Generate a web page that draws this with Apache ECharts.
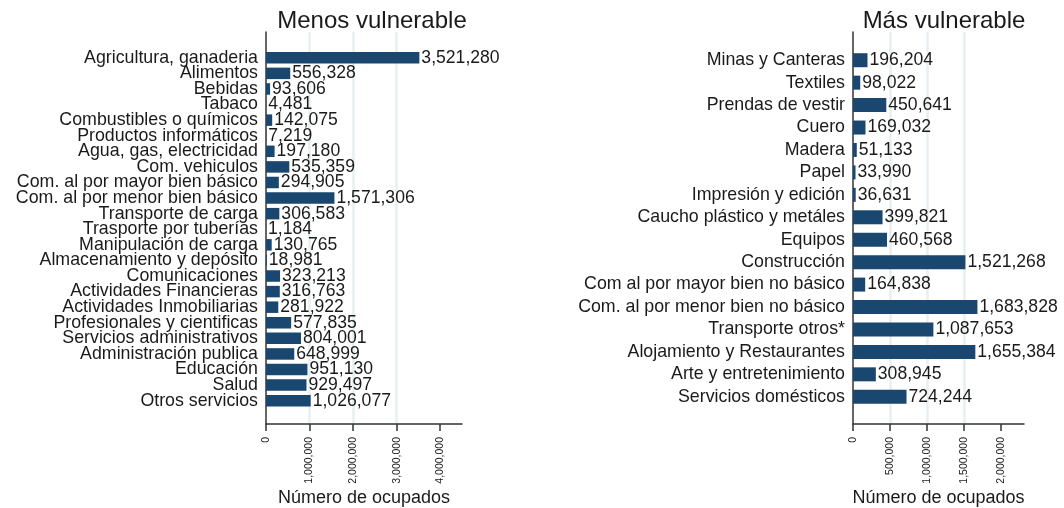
<!DOCTYPE html>
<html>
<head>
<meta charset="utf-8">
<script src="https://cdn.jsdelivr.net/npm/echarts@6/dist/echarts.min.js"></script>
<style>
html,body{margin:0;padding:0;background:#fff;}
#chart{width:1064px;height:508px;}
</style>
</head>
<body>
<div id="chart"></div>
<script>
// ---- Data ----
const leftTitle = 'Menos vulnerable';
const rightTitle = 'Más vulnerable';
const axisName = 'Número de ocupados';

const leftCategories = [
  'Agricultura, ganaderia', 'Alimentos', 'Bebidas', 'Tabaco',
  'Combustibles o químicos', 'Productos informáticos', 'Agua, gas, electricidad',
  'Com. vehiculos', 'Com. al por mayor bien básico', 'Com. al por menor bien básico',
  'Transporte de carga', 'Trasporte por tuberías', 'Manipulación de carga',
  'Almacenamiento y depósito', 'Comunicaciones', 'Actividades Financieras',
  'Actividades Inmobiliarias', 'Profesionales y cientificas', 'Servicios administrativos',
  'Administración publica', 'Educación', 'Salud', 'Otros servicios'
];
const leftValues = [
  3521280, 556328, 93606, 4481, 142075, 7219, 197180, 535359, 294905, 1571306,
  306583, 1184, 130765, 18981, 323213, 316763, 281922, 577835, 804001,
  648999, 951130, 929497, 1026077
];

const rightCategories = [
  'Minas y Canteras', 'Textiles', 'Prendas de vestir', 'Cuero', 'Madera', 'Papel',
  'Impresión y edición', 'Caucho plástico y metáles', 'Equipos', 'Construcción',
  'Com al por mayor bien no básico', 'Com. al por menor bien no básico',
  'Transporte otros*', 'Alojamiento y Restaurantes', 'Arte y entretenimiento',
  'Servicios domésticos'
];
const rightValues = [
  196204, 98022, 450641, 169032, 51133, 33990, 36631, 399821, 460568, 1521268,
  164838, 1683828, 1087653, 1655384, 308945, 724244
];

const leftTicks = [0, 1000000, 2000000, 3000000, 4000000];
const rightTicks = [0, 500000, 1000000, 1500000, 2000000];

// ---- Styling ----
const FONT = '"Liberation Sans", Arial, sans-serif';
const BAR = '#1a476f';
const TXT = '#1a1a1a';
const GRIDC = '#e6eff2';
const AXC = '#333';

function fmt(v) {
  return String(Math.round(v)).replace(/\B(?=(\d{3})+(?!\d))/g, ',');
}

function outerX(gridIndex, max, interval, ticks) {
  return {
    type: 'value', gridIndex, min: 0, max, interval,
    axisLine: { show: true, lineStyle: { color: AXC, width: 1.5 } },
    axisTick: { show: true, length: 7, inside: false, lineStyle: { color: AXC, width: 1.5 }, customValues: ticks },
    axisLabel: {
      show: true, rotate: 90, margin: 13, fontSize: 10.5, color: TXT, fontFamily: FONT,
      customValues: ticks, formatter: fmt
    },
    splitLine: { show: true, showMinLine: false, showMaxLine: false, lineStyle: { color: GRIDC, width: 2.5 } },
    name: axisName, nameLocation: 'middle', nameGap: 65, nameMoveOverlap: false,
    nameTextStyle: { fontSize: 18, color: TXT, fontFamily: FONT }
  };
}
function innerX(gridIndex, max) {
  return { type: 'value', gridIndex, min: 0, max, show: false, splitLine: { show: false } };
}
function outerY(gridIndex) {
  return {
    type: 'value', gridIndex, min: 0, max: 1,
    axisLine: { show: true, onZero: false, lineStyle: { color: AXC, width: 1.5 } },
    axisTick: { show: false }, axisLabel: { show: false }, splitLine: { show: false }
  };
}
function innerY(gridIndex, cats) {
  return {
    type: 'category', gridIndex, data: cats, inverse: true,
    axisLine: { show: false }, axisTick: { show: false },
    axisLabel: { show: true, interval: 0, margin: 8, fontSize: 17.8, color: TXT, fontFamily: FONT }
  };
}
function barSeries(xi, yi, data, width) {
  return {
    type: 'bar', xAxisIndex: xi, yAxisIndex: yi, data, barWidth: width,
    itemStyle: { color: BAR }, silent: true,
    label: { show: true, position: 'right', distance: 2, fontSize: 17.6, color: TXT, fontFamily: FONT, formatter: p => fmt(p.value) }
  };
}

const G = { outerBoundsMode: 'none', containLabel: false };
const chart = echarts.init(document.getElementById('chart'), null, { renderer: 'canvas' });
chart.setOption({
  backgroundColor: '#fff',
  animation: false,
  title: [
    { text: leftTitle, left: 367, top: 4, textAlign: 'center', textStyle: { fontSize: 24, fontWeight: 'normal', color: TXT, fontFamily: FONT } },
    { text: rightTitle, left: 939, top: 4, textAlign: 'center', textStyle: { fontSize: 24, fontWeight: 'normal', color: TXT, fontFamily: FONT } }
  ],
  grid: [
    Object.assign({ left: 266, width: 196, top: 32, height: 392 }, G),
    Object.assign({ left: 266, width: 196, top: 50, height: 358.5 }, G),
    Object.assign({ left: 853, width: 171, top: 32, height: 392 }, G),
    Object.assign({ left: 853, width: 171, top: 49, height: 359 }, G)
  ],
  xAxis: [
    outerX(0, 4500000, 1000000, leftTicks),
    innerX(1, 4500000),
    outerX(2, 2314000, 500000, rightTicks),
    innerX(3, 2314000)
  ],
  yAxis: [
    outerY(0),
    innerY(1, leftCategories),
    outerY(2),
    innerY(3, rightCategories)
  ],
  series: [
    barSeries(1, 1, leftValues, 11.5),
    barSeries(3, 3, rightValues, 14)
  ]
});
</script>
</body>
</html>
